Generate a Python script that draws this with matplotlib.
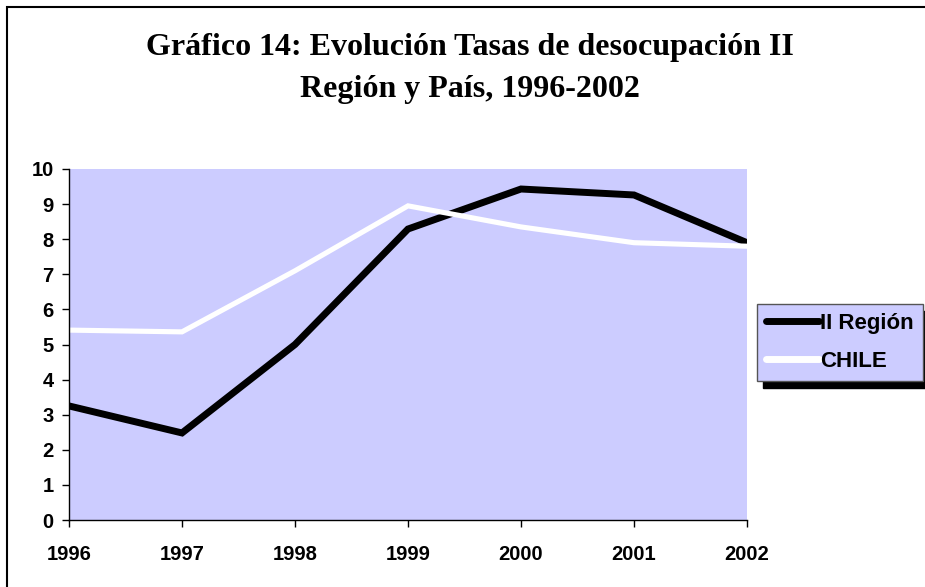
import matplotlib
matplotlib.use('Agg')
import matplotlib.pyplot as plt
from matplotlib.patches import Rectangle

years = ['1996', '1997', '1998', '1999', '2000', '2001', '2002']
region_ii = [3.25, 2.48, 5.0, 8.29, 9.43, 9.26, 7.9]
chile = [5.41, 5.36, 7.1, 8.95, 8.35, 7.9, 7.8]
yticks = list(range(0, 11))

fig = plt.figure(figsize=(9.25, 5.87), dpi=100)
fig.patch.set_facecolor('white')

# outer frame of the chart object (runs off the right and bottom edges)
fig.patches.append(Rectangle((7 / 925, -0.1), 1.1, 1 - 7 / 587 + 0.1,
                             transform=fig.transFigure, fill=False,
                             edgecolor='black', linewidth=1.5, clip_on=False))

ax = fig.add_axes([69 / 925, 67 / 587, 678 / 925, 351 / 587])
ax.set_facecolor('#CCCCFF')

x = range(len(years))
ax.plot(x, region_ii, color='black', linewidth=5, label='II Región',
        solid_joinstyle='miter')
ax.plot(x, chile, color='white', linewidth=3.7, label='CHILE',
        solid_joinstyle='miter')

ax.set_xlim(0, len(years) - 1)
ax.set_ylim(0, 10)
ax.set_xticks(list(x))
ax.set_xticklabels(years)
ax.set_yticks(yticks)

for side in ['top', 'right']:
    ax.spines[side].set_visible(False)
for side in ['left', 'bottom']:
    ax.spines[side].set_color('black')
    ax.spines[side].set_linewidth(1)

ax.tick_params(direction='out', length=5, width=1, colors='black')
ax.tick_params(axis='x', pad=13)
ax.tick_params(axis='y', pad=6)
for lbl in ax.get_xticklabels() + ax.get_yticklabels():
    lbl.set_fontfamily('Liberation Sans')
    lbl.set_fontweight('bold')
    lbl.set_fontsize(14.5)

fig.text(0.508, 1 - 47 / 587, 'Gráfico 14: Evolución Tasas de desocupación II',
         ha='center', va='center', fontfamily='Liberation Serif',
         fontweight='bold', fontsize=23)
fig.text(0.508, 1 - 89 / 587, 'Región y País, 1996-2002',
         ha='center', va='center', fontfamily='Liberation Serif',
         fontweight='bold', fontsize=23)

leg = ax.legend(loc='upper left', bbox_to_anchor=(757 / 925, 1 - 304 / 587),
                bbox_transform=fig.transFigure, frameon=True, fancybox=False,
                shadow={'color': 'black', 'alpha': 1, 'ox': 4.3, 'oy': -5.2},
                facecolor='#CCCCFF',
                edgecolor='#555555', framealpha=1, handlelength=2.4,
                handletextpad=0.05, borderpad=0.4, borderaxespad=0,
                labelspacing=0.78,
                prop={'family': 'Liberation Sans', 'weight': 'bold', 'size': 16})
leg.get_frame().set_linewidth(1)
for h in leg.get_lines():
    h.set_linewidth(5)
    h.set_solid_capstyle('round')

fig.savefig('out.png', dpi=100)
